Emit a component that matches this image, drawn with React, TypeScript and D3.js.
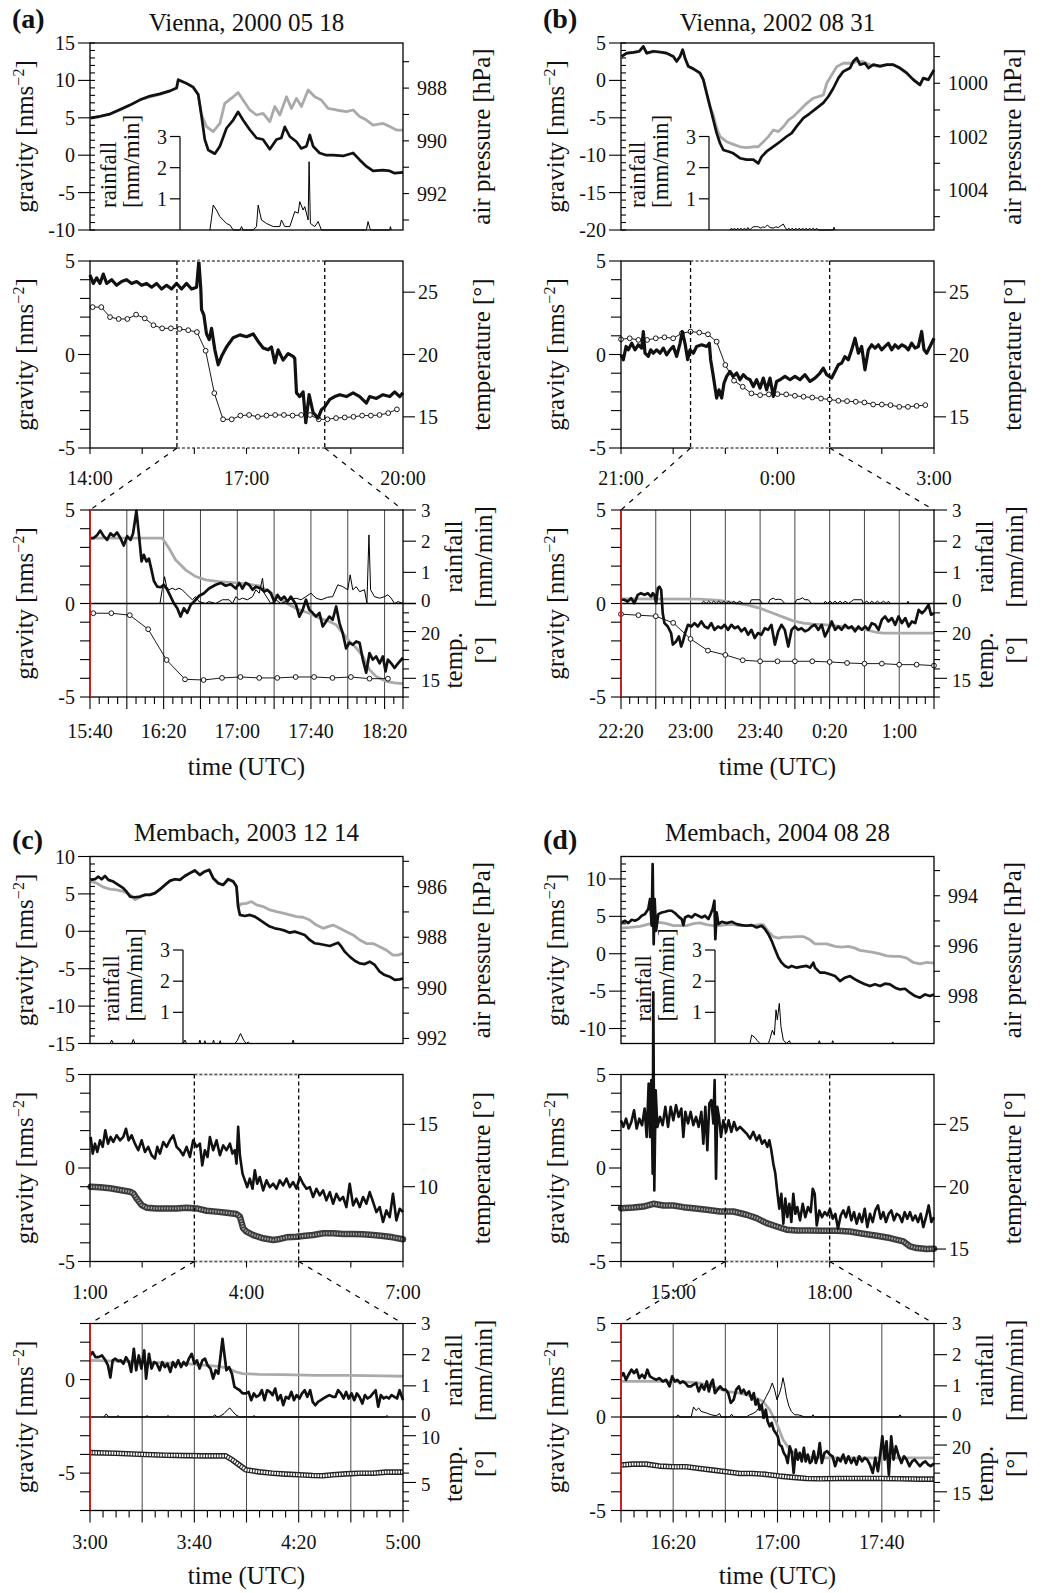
import * as d3 from 'd3'

type Pt = [number, number]

// all series: [minutes since start of panel window, value]

// ---------- (a) Vienna, 2000 05 18 ----------
const aTopGravity: Pt[] = [[1,5.0],[11.5,5.2],[23,5.5],[34.5,6.1],[46,6.7],[57.5,7.4],[69,7.9],[80.4,8.2],[92,8.6],[99.6,9.0],[101.5,10.1],[111,9.6],[118.7,9.1],[124.5,8.1],[128.3,5.2],[132,2.1],[136,0.7],[143.6,0.2],[149.4,1.2],[157,3.6],[164.7,4.7],[170.4,5.8],[176,4.7],[183.8,3.4],[191.5,2.3],[199,2.1],[206.8,0.8],[214.5,2.1],[220,2.3],[224,3.8],[229.8,2.5],[237.5,1.8],[243,0.9],[249,1.2],[252.8,2.7],[256.6,1.2],[264,0.3],[272,0.0],[279.6,0.0],[291,-0.1],[302.6,0.3],[310,-0.6],[318,-1.5],[325.6,-2.1],[337,-2.0],[344.7,-2.1],[350.4,-2.4],[360,-2.3]]
const aTopPressure: Pt[] = [[1,989.15],[11.5,989.08],[23,988.98],[34.5,988.83],[46,988.64],[57.5,988.45],[69,988.33],[80.4,988.24],[92,988.11],[99.6,988.01],[101.5,987.69],[111,987.82],[118.7,987.97],[124.5,988.26],[128.3,989.02],[134,989.46],[141.7,989.65],[149.4,989.34],[155,988.58],[164.7,988.33],[170.4,988.17],[176,988.45],[183.8,988.83],[191.5,989.02],[199,988.96],[206.8,989.27],[212.6,988.7],[218.3,989.02],[226,988.33],[231.7,988.77],[237.5,988.39],[243.2,988.7],[250.9,988.07],[258.5,988.33],[266,988.45],[273.8,988.77],[283.4,988.83],[295,988.89],[302.6,988.83],[310,989.08],[318,989.21],[325.6,989.4],[337,989.34],[344.7,989.46],[352.4,989.59],[360,989.59]]
const aTopRain: Pt[] = [[137.9,0],[139.8,0.38],[141.7,0.8],[145.5,0.64],[149.4,0.43],[153.2,0.32],[157,0.21],[160.9,0.16],[164.7,0],[172.4,0],[174.3,0.11],[176.2,0],[187.7,0],[191.5,0.11],[193.4,0.8],[197.2,0.32],[203,0.21],[210.7,0.11],[218.3,0.11],[220.2,0.32],[224,0.11],[229.8,0.11],[235.5,0.59],[239.4,0.54],[241.3,0.91],[245.1,0.64],[247,0.75],[250.9,0.32],[252,2.19],[253.5,0.21],[258.5,0.11],[262.4,0.27],[266.2,0],[317.9,0],[319.8,0.27],[322.5,0],[344.7,0],[345.5,0.11],[346.6,0]]
const aMidGravity: Pt[] = [[0,4.25],[3.8,3.8],[7.7,4.1],[11.5,3.8],[15.3,4.3],[19.2,3.8],[24.9,4.0],[30.6,3.7],[36.4,3.9],[42.1,4.0],[47.9,3.8],[53.6,3.9],[59.4,3.7],[65.1,3.8],[70.9,3.6],[76.6,3.8],[82.3,3.5],[88.1,3.7],[93.8,3.5],[99.6,3.8],[105.3,3.5],[111.1,3.8],[116.8,3.5],[122.6,3.6],[125.2,5.0],[127.5,3.45],[128.3,2.4],[131,2.1],[134,1.1],[137.1,0.8],[139.8,1.4],[143.6,0.25],[147.5,-0.55],[151.3,-0.1],[157,0.4],[164.7,0.9],[172.4,1.05],[180,0.95],[187.7,1.1],[193.4,0.7],[199.2,0.35],[204.9,0.25],[208.7,0.4],[212.6,-0.45],[216.4,0.25],[222.1,-0.3],[227.9,0.05],[233.6,-0.1],[235.5,-0.2],[237.5,-2.05],[241.3,-2.25],[245.1,-2.0],[248.2,-3.65],[252,-2.15],[256.6,-3.1],[262.4,-3.4],[266.2,-2.95],[270,-2.8],[275.8,-2.4],[281.5,-2.25],[287.3,-2.15],[294.9,-2.25],[302.6,-2.05],[310.2,-2.25],[317.9,-2.6],[321.7,-2.25],[329.4,-2.35],[337,-2.15],[344.7,-2.25],[350.4,-2.0],[356.2,-2.25],[360,-2.05]]
const aMidTemp: Pt[] = [[3,23.8],[13,23.8],[23,23.0],[33,22.85],[43,22.85],[53,23.2],[63,22.9],[73,22.35],[83,22.1],[93,22.1],[103,22.05],[113,21.95],[123,21.8],[133,20.3],[143,16.9],[153,14.8],[163,14.8],[173,15.1],[183,15.15],[193,15.0],[203,15.1],[213,15.15],[223,15.15],[233,15.1],[243,15.15],[253,15.15],[263,14.8],[273,14.8],[283,14.9],[293,14.95],[303,15.0],[313,15.1],[323,15.1],[333,15.15],[343,15.3],[353,15.6]]
const aBotGravity: Pt[] = [[0,3.5],[2,3.5],[3.8,3.65],[5.6,3.9],[7.4,3.6],[9.3,3.4],[11.1,3.75],[12.9,3.6],[14.7,3.8],[16.5,3.5],[18.3,3.1],[20.2,3.6],[22,3.4],[23.4,3.75],[25.2,4.95],[26.5,3.75],[28,2.25],[29.2,2.6],[30.7,2.25],[32,2.4],[33.4,1.8],[34.7,1.2],[36.5,0.9],[38.3,0.87],[40.1,1.0],[42,0.73],[43.8,0.37],[45.6,0.0],[47.4,-0.25],[49.2,-0.7],[51,-0.25],[52.8,-0.5],[54.7,-0.07],[56.5,0.1],[59.2,0.4],[61.9,0.55],[64.6,0.8],[68.3,1.0],[71,1.1],[73.7,0.95],[76.5,1.03],[79.2,0.8],[81,1.1],[82.8,0.8],[84.6,1.1],[86.4,1.0],[88.3,0.73],[90.1,0.9],[92.8,0.8],[94.6,0.64],[96.4,0.73],[98.2,0.55],[100.1,0.1],[101.9,0.46],[103.7,0.2],[105.5,0.37],[107.3,0.1],[109.1,0.37],[111.9,-0.07],[113.7,-0.7],[115.5,-0.34],[117.3,0.2],[119.1,-0.34],[120.9,-0.5],[122.8,-0.7],[124.6,-0.5],[126.4,-1.23],[128.2,-0.96],[130,-0.7],[131.8,-0.87],[133.7,-0.16],[135.5,-1.05],[137.3,-1.6],[139.1,-2.4],[140.9,-2.1],[142.7,-2.2],[144.6,-2.03],[146.4,-2.1],[148.2,-3.0],[150,-3.7],[151.8,-2.65],[153.6,-3.0],[155.4,-2.83],[157.3,-3.2],[159.1,-2.83],[160.5,-3.63],[161.8,-3.0],[163.6,-3.2],[165.4,-3.45],[167.3,-3.2],[170,-2.9]]
const aBotModel: Pt[] = [[0,3.5],[39.2,3.5],[42.9,2.95],[46.5,2.33],[51.9,1.8],[57.4,1.44],[62.8,1.26],[70.1,1.17],[77.4,1.12],[84.6,1.05],[91.9,0.94],[97.3,0.64],[102.8,0.28],[108.2,-0.07],[113.7,-0.34],[119.1,-0.52],[124.6,-0.78],[130,-0.96],[133.7,-1.14],[137.3,-1.58],[140.9,-2.03],[144.6,-2.38],[148.2,-2.83],[151.8,-3.54],[155.4,-3.9],[160.9,-4.16],[165.4,-4.25],[170,-4.29]]
const aBotRain: Pt[] = [[38,0],[39.2,0.44],[40.5,0.86],[41.6,0.54],[42.9,0.44],[44.7,0.49],[46.5,0.44],[48.3,0.49],[50.1,0.44],[51.9,0.33],[53.8,0.22],[55.6,0.12],[57.4,0.22],[59.2,0.06],[62.8,0],[64.6,0.06],[68.3,0],[71.9,0.12],[75.5,0.12],[77.4,0],[79.2,0.22],[81,0.12],[82.8,0.17],[85.5,0.12],[88.3,0.22],[90.1,0.44],[91.9,0.33],[93.7,0.81],[94.6,0.33],[96.4,0.17],[98.2,0],[101,0.12],[103.7,0],[108.2,0.12],[111.9,0.17],[114.6,0.12],[117.3,0.22],[120,0.33],[122.8,0.17],[125.5,0.12],[129.1,0.2],[131.8,0.22],[134.6,0.6],[137.3,0.54],[140,0.44],[141.3,0.92],[142.7,0.44],[144.6,0.54],[146.4,0.38],[149.1,0.44],[150.4,0],[151.5,2.2],[152.4,0.44],[154.5,0.22],[157.3,0.17],[160,0.22],[161.8,0.28],[163.6,0.17],[165.4,0],[167.3,0.06],[170,0]]
const aBotTemp: Pt[] = [[1.8,21.96],[11.6,21.96],[21.6,21.75],[31.6,20.25],[41.6,16.96],[51.6,14.89],[61.7,14.82],[71.7,15.04],[81.7,15.14],[91.9,15.04],[101.7,15.04],[111.7,15.14],[121.7,15.14],[131.7,15.04],[141.7,15.14],[151.8,14.96],[161.8,14.96]]

// ---------- (b) Vienna, 2002 08 31 ----------
const bTopGravity: Pt[] = [[0.8,3.2],[6.5,3.65],[14.2,3.75],[21.1,3.9],[25.7,4.55],[29.5,3.65],[37.2,3.9],[44.9,3.8],[52.5,3.65],[60.2,3.2],[64,2.55],[67.9,3.2],[70.9,4.1],[73.6,3.0],[77.4,1.9],[83.2,1.55],[90.8,1.0],[94.7,0.1],[98.5,-1.7],[102.4,-3.5],[106.2,-5.3],[110,-7.05],[113.9,-8.4],[117.7,-9.3],[123.5,-9.5],[129.2,-9.75],[136.9,-10.4],[144.5,-10.6],[152.2,-10.6],[157.9,-11.1],[161.8,-10.2],[167.5,-9.5],[175.2,-8.85],[182.9,-8.2],[190.5,-7.5],[196.3,-7.05],[202,-6.15],[209.7,-5.05],[217.4,-4.4],[225,-3.7],[232.7,-3.0],[238.5,-2.15],[244.2,-1.05],[250,0.3],[255.7,1.2],[263.4,1.65],[267.2,2.55],[271.1,3.0],[274.9,2.1],[280.6,2.3],[284.5,1.65],[290.2,2.1],[297.9,1.9],[305.6,2.1],[313.2,2.1],[320.9,1.65],[328.6,1.0],[336.2,0.1],[343.9,-0.6],[347.7,0.3],[353.5,0.1],[360,1.4]]
const bTopPressure: Pt[] = [[0.8,999.0],[6.5,998.88],[14.2,998.85],[21.1,998.81],[25.7,998.63],[29.5,998.88],[37.2,998.81],[44.9,998.84],[52.5,998.88],[60.2,999.0],[64,999.19],[67.9,999.0],[70.9,998.75],[73.6,999.06],[77.4,999.38],[83.2,999.46],[90.8,999.63],[94.7,999.88],[98.5,1000.38],[102.4,1000.88],[106.2,1001.19],[110,1001.69],[113.9,1002.0],[121.5,1002.19],[129.2,1002.29],[136.9,1002.38],[144.5,1002.41],[152.2,1002.38],[157.9,1002.38],[163.7,1002.19],[169.5,1002.0],[175.2,1001.75],[181,1001.81],[186.7,1001.63],[192.5,1001.38],[198.2,1001.25],[205.9,1001.0],[213.6,1000.75],[221.2,1000.56],[227,1000.5],[232.7,1000.44],[236.6,1000.0],[242.3,999.69],[248.1,999.38],[255.7,999.25],[263.4,999.25],[271.1,999.19],[278.7,999.19],[286.4,999.31],[297.9,999.38],[305.6,999.31],[313.2,999.31],[320.9,999.44],[328.6,999.63],[336.2,999.88],[343.9,1000.06],[347.7,999.81],[353.5,999.88],[360,999.5]]
const bTopRain: Pt[] = [[125.4,0],[127,0.06],[128.6,0],[130.5,0.06],[132.4,0],[134.3,0.06],[136.2,0],[138,0.06],[140,0],[142,0.06],[144,0],[146,0.08],[148,0],[150,0.06],[152,0.1],[156,0.11],[158,0.1],[161,0.06],[163,0.1],[165.6,0.08],[168.3,0.16],[171.4,0.08],[175,0.06],[178,0.1],[181,0.08],[183,0.12],[186.7,0.19],[188.6,0.09],[191,0],[193,0.06],[195,0],[197,0.06],[199,0],[201,0.06],[203,0],[205,0.06],[207,0],[209,0.06],[211,0],[213,0.06],[215,0],[217,0.06],[219,0],[221,0.06],[223,0],[225,0.06],[227,0],[244.2,0],[245,0.09],[246.1,0]]
const bMidGravity: Pt[] = [[0,-0.02],[2.7,-0.28],[5.8,0.43],[8.4,0.25],[12.3,0.6],[16.1,0.25],[19.9,0.52],[23.8,0.34],[25.7,1.23],[27.6,0.07],[31.4,-0.1],[34.1,0.25],[37.2,0.07],[41,0.25],[44.9,0.07],[48.7,0.34],[52.5,-0.02],[56.4,0.25],[60.2,0.43],[64,-0.1],[67.9,0.6],[70.5,1.23],[73.6,0.6],[76.7,-0.28],[79.4,0.25],[83.2,0.07],[87,0.43],[92.8,0.52],[98.5,0.43],[101.6,0.6],[103.1,-0.28],[106.2,-1.17],[110,-2.33],[112.7,-1.89],[115.8,-2.33],[118.5,-1.53],[121.5,-1.17],[125.4,-0.91],[129.2,-1.17],[133,-0.99],[136.9,-1.35],[140.7,-1.08],[144.5,-1.26],[148.4,-1.35],[152.2,-1.71],[156,-1.35],[159.9,-1.8],[163.7,-1.26],[167.5,-1.89],[171.4,-1.26],[175.2,-2.24],[179,-1.44],[182.9,-1.35],[188.6,-1.17],[194.4,-1.35],[200.1,-1.17],[205.9,-1.35],[211.6,-1.08],[217.4,-1.44],[223.1,-1.26],[228.9,-0.99],[232.7,-0.73],[236.6,-1.08],[242.3,-1.26],[246.1,-0.91],[250,-0.55],[253.8,-0.46],[257.6,-0.11],[261.5,-0.28],[265.3,0.25],[269.2,0.87],[273,0.07],[276.8,0.43],[280.6,-0.82],[284.5,0.25],[288.3,0.52],[292.2,0.34],[296,0.52],[299.8,0.25],[303.7,0.43],[307.5,0.6],[311.3,0.25],[315.2,0.52],[319,0.34],[322.8,0.52],[326.7,0.43],[330.5,0.25],[334.3,0.6],[338.2,0.34],[342,0.43],[345.8,1.23],[348.5,0.25],[351.6,0.07],[355.4,0.43],[360,0.87]]
const bMidTemp: Pt[] = [[0,21.22],[10,21.3],[20,21.17],[30,21.17],[40,21.3],[50,21.38],[60,21.3],[70,21.7],[80,21.84],[90,21.76],[100,21.62],[110,21.03],[120,19.16],[130,17.9],[140,17.41],[150,16.88],[160,16.74],[170,16.8],[180,16.82],[190,16.8],[200,16.69],[210,16.61],[220,16.55],[230,16.47],[240,16.39],[250,16.29],[260,16.26],[270,16.21],[280,16.15],[290,15.99],[300,15.99],[310,15.94],[320,15.8],[330,15.8],[340,15.88],[350,15.94]]
const bBotGravity: Pt[] = [[0,0.2],[1.9,0.2],[3.8,0.1],[5.8,0.28],[7.7,0.02],[9.6,0.46],[11.5,0.55],[13.5,0.46],[15.4,0.55],[17.3,0.37],[18.3,0.55],[19.2,0.46],[20.2,0.02],[21.2,0.82],[22.1,0.9],[23.1,0.73],[24,-0.52],[25,-1.05],[26.9,-1.23],[28.8,-1.58],[29.8,-2.2],[31.7,-2.03],[33.3,-1.76],[34.6,-2.3],[35.6,-2.03],[36.9,-1.58],[38.5,-1.14],[40.4,-1.23],[42.3,-1.05],[44.2,-1.23],[46.2,-0.96],[48.1,-1.23],[50,-1.32],[51.9,-1.05],[53.8,-1.41],[55.8,-1.23],[57.7,-1.32],[59.6,-1.14],[61.5,-1.41],[63.5,-1.14],[65.4,-1.32],[67.3,-1.23],[69.2,-1.49],[71.2,-1.32],[73.1,-1.67],[75,-1.41],[76.9,-1.85],[78.8,-1.58],[80.8,-1.67],[82.7,-1.32],[84.6,-1.41],[86.5,-1.14],[88.5,-2.2],[90.4,-1.49],[92.3,-1.14],[94.2,-1.41],[96.2,-2.3],[98.1,-1.41],[100,-1.23],[101.9,-1.41],[103.8,-1.32],[105.8,-1.49],[107.7,-1.41],[109.6,-1.23],[111.5,-1.14],[113.5,-1.41],[115.4,-1.14],[117.3,-1.76],[119.2,-1.41],[121.2,-0.96],[123.1,-1.41],[125,-1.23],[126.9,-1.41],[128.8,-1.14],[130.8,-1.32],[132.7,-1.23],[134.6,-1.49],[136.5,-1.23],[138.5,-1.41],[140.4,-1.23],[142.3,-1.41],[144.2,-1.05],[146.2,-1.14],[148.1,-1.41],[150,-0.87],[151.9,-0.69],[153.8,-0.96],[155.8,-0.78],[157.7,-1.14],[159.6,-0.69],[161.5,-1.05],[163.5,-0.78],[165.4,-1.23],[167.3,-0.96],[169.2,-1.05],[171.2,-0.34],[173.1,-0.52],[175,-0.34],[176.9,-0.07],[178.3,-0.6],[180,-0.52]]
const bBotModel: Pt[] = [[0,0.25],[45.2,0.23],[56.7,0.16],[64.4,0.05],[72.1,-0.07],[79.8,-0.25],[87.5,-0.52],[93.3,-0.73],[99,-0.93],[104.8,-1.05],[110.6,-1.1],[118.3,-1.14],[126,-1.23],[133.7,-1.32],[141.3,-1.41],[147.1,-1.55],[151,-1.58],[158.7,-1.58],[168.3,-1.58],[180,-1.58]]
const bBotRain: Pt[] = [[46.2,0],[47.5,0.075],[49,0],[50.4,0.075],[51.9,0],[53.3,0.075],[54.8,0],[56.2,0.075],[57.7,0],[59,0.075],[60.6,0],[61.9,0.075],[63.5,0],[64.8,0.075],[66.3,0],[68.3,0.075],[70.2,0],[74,0],[75,0.12],[79.8,0.12],[81.3,0],[84.6,0],[85.6,0.12],[87.5,0.17],[89,0.12],[90.4,0.14],[92.3,0.12],[94.2,0],[100,0],[101,0.12],[102.9,0.14],[104.4,0.18],[105.8,0.12],[107.7,0.12],[109.6,0],[116.7,0],[117.5,0.075],[118.7,0],[120.2,0.075],[121.7,0],[123.1,0.075],[124.6,0],[126,0.075],[127.5,0],[128.8,0.075],[130.8,0],[132.7,0.075],[133.7,0.12],[138.5,0.12],[139.4,0],[141.3,0.075],[142.9,0],[144.2,0.075],[145.8,0],[147.5,0.075],[149,0],[151,0.075],[152.5,0],[153.8,0.075],[154.8,0],[164.4,0],[165,0.075],[165.6,0]]
const bBotTemp: Pt[] = [[0,21.86],[10,21.75],[20,21.64],[30,20.93],[40,19.21],[50,17.96],[60,17.5],[70,16.93],[80,16.82],[90,16.82],[100,16.82],[110,16.82],[120,16.75],[130,16.64],[140,16.57],[150,16.57],[160,16.46],[170,16.46],[180,16.36]]

// ---------- (c) Membach, 2003 12 14 ----------
const cTopGravity: Pt[] = [[0.8,6.875],[5.7,6.96],[9.6,7.3],[13.4,6.96],[17.2,7.4],[21.1,6.875],[26.8,6.65],[32.6,6.2],[38.3,5.76],[42.1,5.3],[46,4.64],[51.7,4.55],[57.5,4.64],[63.2,4.87],[68.9,4.87],[74.7,5.1],[80.4,5.6],[86.2,6.2],[91.9,6.74],[97.7,6.96],[103.4,6.875],[109.2,7.4],[114.9,7.77],[120.6,8.13],[126.4,7.54],[132.1,8.0],[137.1,8.2],[141.7,7.1],[147.5,6.43],[153.2,6.2],[158.9,6.96],[164.7,6.65],[168.5,5.98],[170.4,3.3],[172.4,2.19],[178.1,2.05],[183.8,2.19],[189.6,1.96],[195.3,1.52],[201.1,1.07],[206.8,0.63],[212.6,0.4],[218.3,0.27],[224.1,0.09],[229.8,-0.18],[235.5,-0.04],[241.3,-0.27],[247,-0.49],[252.8,-1.16],[258.5,-1.6],[264.3,-1.7],[270,-1.83],[275.8,-1.96],[281.5,-1.7],[285.3,-1.52],[289.2,-2.05],[293,-2.72],[298.7,-3.39],[304.5,-3.93],[310.2,-4.29],[316,-4.38],[321.7,-4.06],[327.5,-4.5],[333.2,-5.4],[339,-5.85],[344.7,-6.07],[350.4,-6.5],[356.2,-6.43],[360,-6.3]]
const cTopPressure: Pt[] = [[0.8,985.79],[7.7,985.86],[15.3,986.02],[23,986.1],[30.6,986.13],[38.3,986.19],[46,986.32],[51.7,986.52],[57.5,986.42],[63.2,986.32],[68.9,986.32],[74.7,986.26],[80.4,986.1],[86.2,985.93],[91.9,985.77],[97.7,985.7],[103.4,985.73],[109.2,985.57],[114.9,985.46],[120.6,985.36],[126.4,985.53],[132.1,985.4],[137.1,985.33],[141.7,985.66],[147.5,985.86],[153.2,985.93],[158.9,985.7],[164.7,985.79],[168.5,985.99],[170.4,986.79],[174.3,986.68],[180,986.66],[185.8,986.59],[191.5,986.72],[199.2,986.79],[206.8,986.92],[214.5,986.99],[222.1,987.05],[229.8,987.12],[237.5,987.19],[245.1,987.21],[252.8,987.32],[260.4,987.52],[268.1,987.65],[273.8,987.58],[279.6,987.52],[287.3,987.65],[294.9,987.78],[302.6,987.91],[310.2,988.11],[317.9,988.25],[325.6,988.25],[333.2,988.38],[340.9,988.51],[348.5,988.71],[354.3,988.71],[360,988.64]]
const cTopRain: Pt[] = [[23,0],[24.9,0.11],[26.8,0],[47.9,0],[49.8,0.13],[51.7,0],[107.2,0],[109.2,0.11],[111.1,0],[125.2,0],[126.4,0.11],[127.5,0],[131,0],[132.1,0.09],[133.3,0],[140.9,0],[142.1,0.11],[143.2,0],[148.6,0],[149.8,0.09],[150.9,0],[166.6,0],[169.3,0.09],[173.1,0.32],[177,0.09],[180,0],[181.9,0.05],[183.8,0],[232.5,0],[233.6,0.11],[234.8,0]]
const cMidGravity: Pt[] = [[0.8,1.66],[3.1,0.77],[5.7,1.3],[8.4,0.86],[11.5,1.48],[14.6,1.13],[17.6,2.02],[20.7,1.3],[23.7,1.66],[26.8,1.39],[30.6,1.75],[34.5,1.48],[38.3,1.66],[41.4,2.1],[44.4,1.48],[47.9,1.75],[51.7,1.3],[55.5,0.95],[59.4,1.48],[63.2,0.86],[67,1.13],[70.9,0.68],[74.7,0.5],[77.4,1.13],[80.4,0.77],[84.3,1.39],[88.1,1.13],[91.9,1.48],[95.8,1.75],[99.6,1.13],[103.4,0.95],[107.2,0.68],[111.1,1.13],[114.9,0.59],[118.7,1.48],[122.6,1.13],[126.4,1.3],[129.1,0.14],[132.1,0.95],[135.2,0.59],[137.9,1.66],[141.7,0.95],[145.5,1.48],[149.4,0.68],[153.2,1.21],[157,0.95],[160.9,1.3],[163.9,0.77],[166.6,0.95],[168.5,0.23],[170.4,2.2],[172.4,0.68],[175.4,-0.3],[178.1,-0.66],[180.8,-1.02],[183.8,-0.57],[186.9,-1.11],[189.6,-0.12],[192.3,-0.84],[195.3,-0.48],[199.2,-1.2],[203,-0.66],[206.8,-1.02],[210.7,-0.84],[214.5,-1.11],[218.3,-0.66],[222.1,-0.93],[226,-0.57],[229.8,-1.02],[233.6,-0.75],[237.5,-1.11],[241.3,-0.48],[245.1,-0.84],[249,-1.11],[252.8,-1.02],[256.6,-1.55],[260.4,-1.11],[264.3,-1.46],[268.1,-1.2],[271.9,-1.73],[275.8,-1.29],[279.6,-1.91],[283.4,-1.38],[287.3,-1.73],[291.1,-1.55],[294.9,-2.09],[298.7,-0.84],[302.6,-2.0],[306.4,-1.64],[310.2,-2.09],[314.1,-1.55],[317.9,-1.91],[321.7,-1.29],[325.6,-1.82],[329.4,-2.36],[333.2,-2.09],[337,-2.89],[340.9,-2.27],[344.7,-2.63],[348.5,-1.38],[352.4,-2.8],[356.2,-2.18],[360,-2.36]]
const cMidTemp: Pt[] = [[0.8,10.0],[11.5,9.95],[23,9.87],[34.5,9.73],[46,9.6],[49.8,9.47],[53.6,9.06],[59.4,8.53],[65.1,8.32],[76.6,8.26],[88.1,8.26],[99.6,8.26],[111.1,8.32],[122.6,8.26],[134,8.07],[145.5,8.0],[157,7.91],[168.5,7.81],[172.4,7.6],[176.2,6.66],[180,6.39],[187.7,6.12],[199.2,5.86],[210.7,5.72],[216.4,5.78],[226,5.94],[237.5,5.99],[245.1,6.04],[256.6,6.12],[268.1,6.26],[279.6,6.26],[291.1,6.2],[302.6,6.2],[314.1,6.18],[325.6,6.12],[337,6.04],[348.5,5.94],[360,5.78]]
const cBotGravity: Pt[] = [[0,1.29],[1,1.47],[2.1,1.2],[3.3,1.2],[4.6,1.29],[5.9,1.03],[6.9,0.76],[7.8,0.11],[8.7,1.03],[9.7,1.12],[10.8,0.99],[11.8,1.03],[12.8,0.85],[13.8,1.2],[14.9,0.94],[15.8,0.41],[16.8,1.65],[17.7,0.5],[18.7,1.29],[19.7,0.59],[20.8,1.56],[21.5,0.05],[22.6,1.38],[23.6,0.59],[24.6,0.94],[25.6,0.85],[26.7,0.5],[27.7,0.94],[28.7,0.67],[29.7,0.85],[30.8,0.41],[31.8,0.94],[32.8,0.67],[33.8,1.03],[34.9,0.67],[35.9,0.94],[36.9,0.76],[37.9,1.12],[39,1.38],[40,0.85],[41,1.03],[42,0.59],[43.1,1.03],[44.1,1.12],[45.1,0.76],[46.2,0.59],[47.2,0.05],[48.2,0.5],[49.2,0.32],[50,1.2],[50.8,2.18],[51.5,1.38],[52.3,0.5],[53.3,0.67],[54.4,0.32],[55.4,-0.39],[56.4,-0.48],[57.4,-0.57],[58.5,-0.74],[59.7,-0.74],[60.8,-0.66],[61.8,-1.1],[62.8,-0.74],[63.8,-0.92],[64.9,-0.83],[65.9,-0.57],[66.9,-1.1],[67.9,-0.57],[69,-0.66],[70,-0.83],[71,-0.48],[72,-1.1],[73.1,-0.83],[74.1,-1.37],[75.1,-0.92],[76.2,-1.01],[77.2,-0.66],[78.2,-1.1],[79.2,-0.83],[80.3,-1.01],[81.3,-0.74],[82.3,-0.57],[83.3,-0.92],[84.4,-0.57],[85.4,-1.19],[86.4,-1.37],[87.4,-1.19],[88.5,-1.1],[89.5,-1.01],[90.5,-0.92],[91.8,-0.83],[93.1,-0.92],[94.1,-0.92],[95.1,-0.57],[96.2,-0.74],[97.2,-1.01],[98.2,-0.66],[99.2,-1.01],[100.3,-0.74],[101.3,-1.1],[102.3,-0.74],[103.3,-0.92],[104.4,-1.28],[105.4,-0.83],[106.4,-1.01],[107.4,-0.92],[108.5,-0.74],[109.5,-0.57],[110.5,-1.45],[111.5,-0.83],[112.6,-1.01],[113.6,-0.92],[114.6,-1.01],[115.6,-0.83],[116.7,-0.92],[117.7,-1.01],[118.7,-0.57],[120,-1.1]]
const cBotModel: Pt[] = [[0,1.03],[9.7,0.99],[18.7,0.94],[29,0.89],[36.7,0.85],[44.4,0.76],[49.5,0.71],[53.3,0.59],[55.9,0.41],[58.5,0.32],[64.9,0.28],[73.8,0.27],[86.7,0.23],[99.5,0.23],[112.3,0.2],[120,0.18]]
const cBotRain: Pt[] = [[5.3,0],[6.2,0.1],[7.2,0],[10.4,0],[10.8,0.05],[11.2,0],[21.5,0],[21.9,0.05],[22.3,0],[29.5,0],[29.9,0.05],[30.3,0],[46.9,0],[47.8,0.07],[48.8,0],[50.1,0.04],[51.4,0.11],[52.7,0.23],[53.6,0.29],[54.7,0.18],[55.9,0.07],[57.4,0],[62.6,0],[62.9,0.05],[63.3,0],[113.3,0],[113.8,0.05],[114.4,0]]
const cBotTemp: Pt[] = [[0,8.19],[9.7,8.12],[18.7,8.01],[29,7.91],[36.7,7.87],[44.4,7.84],[52,7.84],[54.6,7.41],[57.2,6.88],[59.7,6.35],[64.9,6.13],[70,5.99],[75.1,5.89],[80.3,5.82],[85.4,5.74],[89.2,5.71],[93.1,5.82],[98.2,5.92],[103.3,5.99],[108.5,5.99],[113.6,6.1],[120,6.1]]

// ---------- (d) Membach, 2004 08 28 ----------
const dTopGravity: Pt[] = [[0.8,4.18],[4.6,4.41],[8.4,4.09],[12.3,4.54],[16.1,4.41],[19.9,4.63],[23.8,5.08],[27.6,5.3],[31.4,5.97],[33.4,7.32],[35.3,3.74],[36.4,12.0],[37.6,1.28],[38.7,7.32],[40.3,3.06],[42.9,5.3],[46.8,5.52],[50.6,5.61],[54.4,5.75],[58.3,5.75],[62.1,5.44],[65.9,4.99],[69.8,4.63],[71.7,3.83],[73.6,4.85],[77.4,5.08],[81.3,4.85],[85.1,5.3],[88.9,5.08],[92.8,4.85],[96.6,5.08],[100.5,4.63],[103.1,5.3],[105.4,5.97],[107.4,7.09],[108.5,1.95],[110,5.52],[112,3.96],[115.8,4.27],[121.5,4.09],[127.3,4.27],[133,3.96],[138.8,3.83],[144.5,3.74],[150.3,3.83],[156,3.51],[161.8,3.74],[165.6,3.29],[169.5,2.62],[173.3,1.72],[177.1,0.6],[181,-0.51],[184.8,-1.19],[188.6,-1.63],[192.5,-1.86],[196.3,-1.63],[202,-1.86],[207.8,-1.72],[213.6,-1.63],[217.4,-1.86],[221.2,-1.19],[223.1,-1.86],[228.9,-2.53],[234.6,-2.53],[240.4,-2.75],[246.1,-2.98],[251.9,-3.65],[257.6,-3.2],[263.4,-2.98],[269.2,-3.42],[274.9,-3.78],[280.6,-4.09],[286.4,-4.32],[292.2,-4.09],[297.9,-4.32],[303.7,-4.0],[309.4,-4.09],[315.2,-4.54],[320.9,-4.77],[326.7,-4.68],[332.4,-5.21],[338.2,-5.66],[343.9,-5.88],[349.7,-5.44],[355.4,-5.66],[360,-5.44]]
const dTopPressure: Pt[] = [[0.8,995.28],[10.4,995.26],[21.9,995.22],[29.5,995.15],[37.2,995.08],[44.9,995.06],[52.5,995.11],[60.2,995.19],[67.9,995.19],[75.5,995.19],[83.2,995.11],[90.9,995.08],[98.5,995.15],[106.2,995.19],[113.9,995.19],[121.5,995.15],[129.2,995.15],[136.9,995.19],[144.5,995.19],[152.2,995.19],[159.9,995.15],[163.7,995.15],[169.5,995.42],[175.2,995.62],[181,995.68],[186.7,995.64],[194.4,995.64],[202,995.62],[209.7,995.62],[217.4,995.75],[223.1,995.91],[228.9,995.91],[236.6,995.91],[246.1,996.01],[253.8,996.04],[261.5,996.01],[269.2,996.08],[274.9,996.17],[282.6,996.21],[290.2,996.25],[297.9,996.31],[305.6,996.39],[313.2,996.41],[320.9,996.41],[328.6,996.48],[336.2,996.65],[343.9,996.71],[351.6,996.65],[360,996.68]]
const dTopRain: Pt[] = [[148.4,0],[150.3,0.27],[154.1,0.19],[156.8,0.09],[159.9,0],[169.5,0],[171.4,0.16],[174.1,0.43],[176.4,0.27],[178.3,1.08],[179.8,0.76],[182.1,1.29],[184,0.54],[186.7,0.11],[190.5,0],[193.6,0.09],[195.2,0],[227,0],[228.1,0.09],[229.3,0],[242.3,0],[243.5,0.09],[244.6,0],[311.3,0],[312.5,0.05],[313.6,0]]
const dMidGravity: Pt[] = [[0,2.55],[2.7,2.2],[5.8,2.64],[8.8,2.11],[11.9,2.46],[15,3.09],[18,2.11],[21.1,2.64],[24.2,2.29],[27.2,3.18],[29.5,1.66],[31.8,4.52],[33.4,1.66],[34.9,4.7],[36.4,-0.3],[37.2,9.4],[38.3,-1.2],[39.9,4.16],[41.8,2.2],[44.9,2.73],[47.9,2.29],[51,3.27],[54.1,2.2],[57.1,3.27],[60.2,2.55],[63.3,3.36],[66.3,2.73],[69.4,3.18],[71.7,1.66],[74,3.0],[77.1,2.38],[80.1,3.0],[83.2,2.29],[86.3,2.73],[89.3,2.2],[92.4,3.0],[94.7,1.3],[97,3.27],[99.3,0.95],[101.6,3.45],[103.9,3.63],[106.2,2.38],[107.7,4.7],[109.3,-0.57],[110.8,3.27],[112.7,2.73],[115,1.66],[117.7,2.55],[120.8,1.93],[123.8,2.55],[126.9,1.93],[130,2.46],[133,2.02],[136.9,2.2],[140.7,2.02],[144.5,1.84],[148.4,1.57],[152.2,1.93],[156,1.48],[159.1,1.75],[162.2,1.3],[165.2,1.48],[168.3,1.13],[170.6,1.48],[172.9,0.95],[175.2,0.23],[177.5,-0.3],[179.8,-1.29],[182.1,-2.18],[184.4,-1.38],[186.7,-2.98],[189,-1.64],[191.3,-2.63],[193.6,-1.91],[195.9,-2.89],[198.2,-1.38],[200.5,-2.45],[202.8,-2.09],[205.9,-2.8],[209,-1.91],[212,-2.63],[215.1,-2.09],[218.2,-2.36],[220.5,-1.11],[222.8,-1.38],[225.1,-3.07],[228.1,-2.27],[231.2,-2.63],[234.3,-2.36],[237.3,-2.54],[240.4,-2.18],[243.5,-2.71],[246.5,-2.45],[249.6,-3.25],[252.7,-2.54],[255.7,-2.27],[258.8,-2.63],[261.9,-2.09],[264.9,-2.8],[268,-2.36],[271.1,-2.98],[274.1,-2.45],[277.2,-2.89],[280.3,-2.18],[283.3,-3.16],[286.4,-2.45],[289.5,-2.89],[292.5,-2.27],[295.6,-2.0],[298.7,-2.71],[301.7,-2.36],[304.8,-2.89],[307.9,-2.45],[310.9,-2.27],[314,-2.8],[317.1,-2.45],[320.1,-2.54],[323.2,-2.89],[326.3,-2.36],[329.3,-2.71],[332.4,-2.36],[335.5,-2.8],[338.5,-2.54],[341.6,-2.89],[344.7,-2.45],[347.7,-3.16],[350.8,-2.63],[353.9,-2.0],[356.9,-2.89],[360,-2.63]]
const dMidTemp: Pt[] = [[0,18.28],[14.2,18.33],[25.7,18.41],[37.2,18.63],[48.7,18.49],[60.2,18.49],[71.7,18.36],[83.2,18.28],[98.5,18.15],[113.9,18.01],[129.2,18.01],[144.5,17.75],[156,17.48],[167.5,17.08],[179,16.81],[190.5,16.55],[202,16.49],[217.4,16.49],[232.7,16.47],[248.1,16.47],[263.4,16.41],[278.7,16.23],[294.1,16.07],[309.4,15.88],[324.7,15.61],[332.4,15.21],[340.1,15.08],[351.6,15.0],[360,15.03]]
const dBotGravity: Pt[] = [[0,2.17],[0.9,2.35],[1.9,1.99],[2.9,2.26],[4,2.53],[5,2.35],[6,2.53],[7,2.08],[8.1,2.26],[9.1,2.08],[10.1,2.53],[11.1,2.17],[12.2,2.08],[13.5,1.99],[14.7,2.08],[16,1.9],[17.3,1.99],[18.6,1.64],[19.6,2.17],[20.6,1.9],[21.6,1.99],[22.7,1.81],[23.7,1.9],[24.7,1.81],[25.7,1.64],[26.8,1.64],[27.8,1.73],[28.8,1.81],[29.8,1.37],[30.9,1.73],[31.9,1.46],[32.9,1.9],[33.7,1.37],[34.5,1.81],[35.2,1.99],[36,1.28],[37,1.46],[38,1.64],[39.1,1.46],[40.1,1.46],[41.1,1.28],[42.1,0.75],[43.2,0.93],[44.2,1.46],[45.2,1.64],[46.1,1.28],[47,1.46],[48,1.19],[49.1,1.37],[50.1,0.93],[50.9,1.28],[51.6,0.66],[52.4,0.93],[53.2,0.39],[53.9,0.66],[54.7,-0.05],[55.5,0.39],[56.2,-0.23],[57,-0.5],[57.8,-0.32],[58.5,-0.68],[59.3,-0.85],[60.1,-1.03],[60.8,-1.48],[61.6,-1.57],[62.4,-1.92],[63.2,-2.1],[63.9,-2.46],[64.7,-1.57],[65.5,-1.92],[66.2,-2.99],[67,-1.74],[67.8,-2.28],[68.5,-1.92],[69.3,-2.37],[70.1,-1.65],[70.8,-2.37],[71.6,-2.01],[72.4,-2.46],[73.1,-2.37],[73.9,-1.83],[74.7,-2.46],[75.5,-2.1],[76.2,-1.39],[77,-2.46],[78,-1.92],[79,-1.83],[80.1,-2.01],[81.1,-2.1],[82.1,-2.63],[83.1,-2.19],[84.2,-2.37],[85.2,-2.01],[86.2,-2.46],[87.2,-2.1],[88.3,-2.46],[89.3,-2.19],[90.3,-2.54],[91.3,-2.1],[92.4,-2.37],[93.4,-2.19],[94.4,-2.28],[95.4,-2.54],[96.5,-2.99],[97.5,-2.19],[98.5,-2.9],[99.3,-2.1],[100.2,-1.03],[101.1,-2.28],[101.8,-1.3],[102.7,-3.08],[103.6,-1.03],[104.5,-2.28],[105.4,-1.57],[106.5,-2.1],[107.5,-2.46],[108.5,-2.1],[109.5,-2.28],[110.6,-2.63],[111.6,-2.37],[112.6,-2.28],[113.6,-2.46],[114.6,-2.63],[115.7,-2.46],[116.7,-2.37],[117.7,-2.54],[118.7,-2.63],[120,-2.49]]
const dBotModel: Pt[] = [[0,1.9],[16,1.9],[28.8,1.85],[35.2,1.64],[40.4,1.37],[45.5,1.28],[50.6,1.1],[54.4,0.84],[57,0.39],[59.6,-0.32],[62.1,-1.21],[64.7,-1.74],[67.3,-2.01],[71.1,-2.14],[76.2,-2.19],[89,-2.19],[101.8,-2.19],[120,-2.19]]
const dBotRain: Pt[] = [[21.1,0],[21.9,0.07],[22.7,0],[26.9,0],[27.8,0.32],[28.8,0.21],[29.8,0.29],[30.7,0.18],[32.7,0.13],[34.6,0.07],[36.5,0.04],[37.8,0.11],[38.4,0],[41.6,0],[42.4,0.09],[43.2,0],[48,0],[49.3,0.07],[50.6,0.11],[51.9,0.18],[53.2,0.34],[54.4,0.45],[55.7,0.66],[57,0.87],[58,1.09],[58.9,0.87],[59.8,0.55],[60.8,0.77],[61.5,0.98],[62.1,1.26],[62.8,0.98],[63.4,0.66],[64.4,0.34],[65.3,0.18],[66.6,0.07],[67.9,0.07],[69.2,0.04],[70.5,0],[73,0],[73.6,0.07],[74.3,0],[106.3,0],[107,0.07],[107.6,0]]
const dBotTemp: Pt[] = [[0,17.86],[4.5,17.96],[9.6,17.96],[14.7,17.75],[19.9,17.68],[25,17.68],[30.1,17.5],[35.2,17.32],[40.4,17.14],[45.5,16.96],[50.6,16.96],[55.7,16.86],[60.8,16.68],[66,16.54],[71.1,16.43],[76.2,16.39],[83.9,16.43],[91.6,16.43],[99.3,16.43],[107,16.39],[114.6,16.36],[120,16.36]]

// ---------- panel settings ----------
const events = [
  {
    tag: '(a)', title: 'Vienna, 2000 05 18', col: 0, row: 0,
    top: { g: [-10, 15], p: [986.29, 993.38], gLabels: [-10, -5, 0, 5, 10, 15], pTicks: [987, 988, 989, 990, 991, 992, 993], pLabels: [988, 990, 992], insetAt: 90, black: aTopGravity, gray: aTopPressure, rain: aTopRain },
    mid: { t: [12.5, 27.5], tLabels: [15, 20, 25], timeLabels: ['14:00', '17:00', '20:00'], timeAt: [0, 180, 360], zoom: [100, 270], black: aMidGravity, temp: aMidTemp, dense: false },
    bot: { span: 170, g: [-5, 5], gLabels: [-5, 0, 5], t: [13, 23], tLabels: [15, 20], timeLabels: ['15:40', '16:20', '17:00', '17:40', '18:20'], timeAt: [0, 40, 80, 120, 160], black: aBotGravity, gray: aBotModel, rain: aBotRain, temp: aBotTemp, dense: false },
  },
  {
    tag: '(b)', title: 'Vienna, 2002 08 31', col: 1, row: 0,
    top: { g: [-20, 5], p: [998.49, 1005.5], gLabels: [-20, -15, -10, -5, 0, 5], pTicks: [999, 1000, 1001, 1002, 1003, 1004, 1005], pLabels: [1000, 1002, 1004], insetAt: 88, black: bTopGravity, gray: bTopPressure, rain: bTopRain },
    mid: { t: [12.5, 27.5], tLabels: [15, 20, 25], timeLabels: ['21:00', '0:00', '3:00'], timeAt: [0, 180, 360], zoom: [80, 240], black: bMidGravity, temp: bMidTemp, dense: false },
    bot: { span: 180, g: [-5, 5], gLabels: [-5, 0, 5], t: [13, 23], tLabels: [15, 20], timeLabels: ['22:20', '23:00', '23:40', '0:20', '1:00'], timeAt: [0, 40, 80, 120, 160], black: bBotGravity, gray: bBotModel, rain: bBotRain, temp: bBotTemp, dense: false },
  },
  {
    tag: '(c)', title: 'Membach, 2003 12 14', col: 0, row: 1,
    top: { g: [-15, 10], p: [984.81, 992.2], gLabels: [-15, -10, -5, 0, 5, 10], pTicks: [985, 986, 987, 988, 989, 990, 991, 992], pLabels: [986, 988, 990, 992], insetAt: 93, black: cTopGravity, gray: cTopPressure, rain: cTopRain },
    mid: { t: [4, 19], tLabels: [10, 15], timeLabels: ['1:00', '4:00', '7:00'], timeAt: [0, 180, 360], zoom: [120, 240], black: cMidGravity, temp: cMidTemp, dense: true },
    bot: { span: 120, g: [-7, 3], gLabels: [-5, 0], t: [2, 12], tLabels: [5, 10], timeLabels: ['3:00', '3:40', '4:20', '5:00'], timeAt: [0, 40, 80, 120], black: cBotGravity, gray: cBotModel, rain: cBotRain, temp: cBotTemp, dense: true },
  },
  {
    tag: '(d)', title: 'Membach, 2004 08 28', col: 1, row: 1,
    top: { g: [-12, 13], p: [992.44, 999.87], gLabels: [-10, -5, 0, 5, 10], pTicks: [993, 994, 995, 996, 997, 998, 999], pLabels: [994, 996, 998], insetAt: 94, black: dTopGravity, gray: dTopPressure, rain: dTopRain },
    mid: { t: [14, 29], tLabels: [15, 20, 25], timeLabels: ['15:00', '18:00'], timeAt: [60, 240], zoom: [120, 240], black: dMidGravity, temp: dMidTemp, dense: true },
    bot: { span: 120, g: [-5, 5], gLabels: [-5, 0, 5], t: [13, 23], tLabels: [15, 20], timeLabels: ['16:20', '17:00', '17:40'], timeAt: [20, 60, 100], black: dBotGravity, gray: dBotModel, rain: dBotRain, temp: dBotTemp, dense: true },
  },
]

const W = 1042, H = 1593
const BW = 313, BH = 187
const COL_X = [90, 621]
const ROW_Y = [0, 813.5]
const TOP_Y = 43, MID_Y = 261, BOT_Y = 510
const FONT = "'Liberation Serif', 'Times New Roman', Times, serif"
const TICK = 20

const GravityTitle = ({ x, y }: { x: number, y: number }) => (
  <text transform={`translate(${x},${y}) rotate(-90)`} textAnchor="middle" fontSize={25}>
    gravity [nms<tspan dy={-9} fontSize={16}>−2</tspan><tspan dy={9}>]</tspan>
  </text>
)

const VText = ({ x, y, s, anchor = 'middle', size = 25 }: any) => (
  <text transform={`translate(${x},${y}) rotate(-90)`} textAnchor={anchor} fontSize={size}>{s}</text>
)

function TopPanel({ ev, x0, y0 }: any) {
  const c = ev.top
  const x1 = x0 + BW, y1 = y0 + BH
  const x = d3.scaleLinear().domain([0, 360]).range([x0, x1])
  const yg = d3.scaleLinear().domain(c.g).range([y1, y0])
  const yp = d3.scaleLinear().domain(c.p).range([y0, y1])
  const yr = d3.scaleLinear().domain([0, 3]).range([y1, y1 - BH / 2])
  const gLine = d3.line<Pt>().x(d => x(d[0])).y(d => yg(d[1]))
  const pLine = d3.line<Pt>().x(d => x(d[0])).y(d => yp(d[1]))
  const rLine = d3.line<Pt>().x(d => x(d[0])).y(d => yr(d[1]))
  const ax = x0 + c.insetAt
  const gTicks = d3.range(Math.ceil(c.g[0]), Math.floor(c.g[1]) + 1)
  return (
    <g>
      <path d={rLine(c.rain) || ''} fill="none" stroke="#000" strokeWidth={1} />
      <path d={pLine(c.gray) || ''} fill="none" stroke="#aaa" strokeWidth={2.8} strokeLinejoin="round" />
      <path d={gLine(c.black) || ''} fill="none" stroke="#111" strokeWidth={2.7} strokeLinejoin="round" />
      <line x1={ax} x2={ax} y1={y1} y2={yr(3)} stroke="#000" strokeWidth={1.2} />
      {[1, 2, 3].map(v => (
        <g key={v}>
          <line x1={ax - 10} x2={ax} y1={yr(v)} y2={yr(v)} stroke="#000" strokeWidth={1.2} />
          <text x={ax - 13} y={yr(v)} dy="0.35em" textAnchor="end" fontSize={TICK}>{v}</text>
        </g>
      ))}
      <VText x={ax - 64} y={y1 - 22} s="rainfall" anchor="start" size={23} />
      <VText x={ax - 41} y={y1 - 22} s="[mm/min]" anchor="start" size={23} />
      <rect x={x0} y={y0} width={BW} height={BH} fill="none" stroke="#000" strokeWidth={1.3} />
      {gTicks.map(v => (
        <line key={v} x1={v % 5 === 0 ? x0 - 12 : x0} x2={x0 + 5} y1={yg(v)} y2={yg(v)} stroke="#000" strokeWidth={1.1} />
      ))}
      {c.gLabels.map((v: number) => (
        <text key={v} x={x0 - 15} y={yg(v)} dy="0.35em" textAnchor="end" fontSize={TICK}>{v}</text>
      ))}
      {c.pTicks.map((v: number) => (
        <line key={v} x1={x1} x2={x1 + 6} y1={yp(v)} y2={yp(v)} stroke="#000" strokeWidth={1.1} />
      ))}
      {c.pLabels.map((v: number) => (
        <text key={v} x={x1 + 14} y={yp(v)} dy="0.35em" fontSize={TICK}>{v}</text>
      ))}
      <GravityTitle x={x0 - 57} y={y0 + BH / 2} />
      <VText x={x1 + 87} y={y0 + BH / 2} s="air pressure [hPa]" />
    </g>
  )
}

function MidPanel({ ev, x0, y0, by0 }: any) {
  const c = ev.mid
  const x1 = x0 + BW, y1 = y0 + BH
  const x = d3.scaleLinear().domain([0, 360]).range([x0, x1])
  const yg = d3.scaleLinear().domain([-5, 5]).range([y1, y0])
  const yt = d3.scaleLinear().domain(c.t).range([y1, y0])
  const gLine = d3.line<Pt>().x(d => x(d[0])).y(d => yg(d[1]))
  const tLine = d3.line<Pt>().x(d => x(d[0])).y(d => yt(d[1]))
  const xa = x(c.zoom[0]), xb = x(c.zoom[1])
  return (
    <g>
      {c.dense ? (
        <g>
          <path d={tLine(c.temp) || ''} fill="none" stroke="#3c3c3c" strokeWidth={6.5} strokeLinejoin="round" strokeLinecap="round" />
          <path d={tLine(c.temp) || ''} fill="none" stroke="#aaa" strokeWidth={2.4} strokeDasharray="1.3 1.4" />
        </g>
      ) : (
        <g>
          <path d={tLine(c.temp) || ''} fill="none" stroke="#000" strokeWidth={0.9} />
          {c.temp.map((d: Pt, i: number) => (
            <circle key={i} cx={x(d[0])} cy={yt(d[1])} r={2.4} fill="#fff" stroke="#000" strokeWidth={0.9} />
          ))}
        </g>
      )}
      <path d={gLine(c.black) || ''} fill="none" stroke="#111" strokeWidth={c.dense ? 2.6 : 3.2} strokeLinejoin="round" />
      <rect x={x0} y={y0} width={BW} height={BH} fill="none" stroke="#000" strokeWidth={1.3} />
      {[y0, y1].map(yy => (
        <g key={yy}>
          <line x1={xa} x2={xb} y1={yy} y2={yy} stroke="#fff" strokeWidth={2} />
          <line x1={xa} x2={xb} y1={yy} y2={yy} stroke="#555" strokeWidth={1.3} strokeDasharray="3 2" />
        </g>
      ))}
      {[xa, xb].map(xx => (
        <line key={xx} x1={xx} x2={xx} y1={y0} y2={y1} stroke="#000" strokeWidth={1.3} strokeDasharray="4 3" />
      ))}
      <line x1={xa} y1={y1} x2={x0} y2={by0} stroke="#000" strokeWidth={1.2} strokeDasharray="5 6" />
      <line x1={xb} y1={y1} x2={x1} y2={by0} stroke="#000" strokeWidth={1.2} strokeDasharray="5 6" />
      {d3.range(-5, 6).map(v => (
        <line key={v} x1={x0 - (v % 5 === 0 ? 12 : 10)} x2={x0} y1={yg(v)} y2={yg(v)} stroke="#000" strokeWidth={1.1} />
      ))}
      {[-5, 0, 5].map(v => (
        <text key={v} x={x0 - 15} y={yg(v)} dy="0.35em" textAnchor="end" fontSize={TICK}>{v}</text>
      ))}
      {c.tLabels.map((v: number) => (
        <g key={v}>
          <line x1={x1} x2={x1 + 12} y1={yt(v)} y2={yt(v)} stroke="#000" strokeWidth={1.1} />
          <text x={x1 + 15} y={yt(v)} dy="0.35em" fontSize={TICK}>{v}</text>
        </g>
      ))}
      {d3.range(0, 361, 60).map(m => (
        <line key={m} x1={x(m)} x2={x(m)} y1={y1} y2={y1 + 6} stroke="#000" strokeWidth={1.1} />
      ))}
      {c.timeLabels.map((s: string, i: number) => (
        <text key={s} x={x(c.timeAt[i])} y={y1 + 37} textAnchor="middle" fontSize={TICK}>{s}</text>
      ))}
      <GravityTitle x={x0 - 57} y={y0 + BH / 2} />
      <VText x={x1 + 87} y={y0 + BH / 2} s="temperature [°]" />
    </g>
  )
}

function BotPanel({ ev, x0, y0 }: any) {
  const c = ev.bot
  const x1 = x0 + BW, y1 = y0 + BH, ym = y0 + BH / 2
  const x = d3.scaleLinear().domain([0, c.span]).range([x0, x1])
  const yg = d3.scaleLinear().domain(c.g).range([y1, y0])
  const yr = d3.scaleLinear().domain([0, 3]).range([ym, y0])
  const yt = d3.scaleLinear().domain(c.t).range([y1, ym])
  const gLine = d3.line<Pt>().x(d => x(d[0])).y(d => yg(d[1]))
  const rLine = d3.line<Pt>().x(d => x(d[0])).y(d => yr(d[1]))
  const tLine = d3.line<Pt>().x(d => x(d[0])).y(d => yt(d[1]))
  const grid = d3.range(20, c.span, 20)
  const fine = d3.range(0, c.span + 0.1, 5)
  const gTicks = d3.range(c.g[0], c.g[1] + 1)
  const tTicks = d3.range(c.t[0], c.t[1])
  const lab = ev.row === 0 ? 41 : 38
  const ttl = ev.row === 0 ? 78 : 73
  return (
    <g>
      {grid.map(m => (
        <line key={m} x1={x(m)} x2={x(m)} y1={y0} y2={y1} stroke="#333" strokeWidth={0.9} />
      ))}
      <path d={gLine(c.gray) || ''} fill="none" stroke="#aaa" strokeWidth={2.8} />
      <path d={rLine(c.rain) || ''} fill="none" stroke="#000" strokeWidth={1} />
      {c.dense ? (
        <g>
          <path d={tLine(c.temp) || ''} fill="none" stroke="#222" strokeWidth={5.6} strokeLinejoin="round" />
          <path d={tLine(c.temp) || ''} fill="none" stroke="#fff" strokeWidth={2.8} strokeDasharray="1.7 1" />
        </g>
      ) : (
        <g>
          <path d={tLine(c.temp) || ''} fill="none" stroke="#000" strokeWidth={0.9} />
          {c.temp.map((d: Pt, i: number) => (
            <circle key={i} cx={x(d[0])} cy={yt(d[1])} r={2.4} fill="#fff" stroke="#000" strokeWidth={0.9} />
          ))}
        </g>
      )}
      <path d={gLine(c.black) || ''} fill="none" stroke="#111" strokeWidth={2.7} strokeLinejoin="round" />
      <line x1={x0} x2={x1 + 13} y1={ym} y2={ym} stroke="#000" strokeWidth={1.3} />
      <rect x={x0} y={y0} width={BW} height={BH} fill="none" stroke="#000" strokeWidth={1.3} />
      <line x1={x0} x2={x0} y1={y0} y2={y1} stroke="#cc2020" strokeWidth={2} />
      {gTicks.map((v: number) => (
        <line key={v} x1={x0 - 10} x2={x0} y1={yg(v)} y2={yg(v)} stroke="#000" strokeWidth={1.1} />
      ))}
      {c.gLabels.map((v: number) => (
        <text key={v} x={x0 - 15} y={yg(v)} dy="0.35em" textAnchor="end" fontSize={TICK}>{v}</text>
      ))}
      {[1, 2, 3].map(v => (
        <line key={v} x1={x1} x2={x1 + 13} y1={yr(v)} y2={yr(v)} stroke="#000" strokeWidth={1.1} />
      ))}
      {[0, 1, 2, 3].map(v => (
        <text key={v} x={x1 + 18} y={yr(v) - (v === 0 ? 3 : 0)} dy="0.35em" fontSize={19}>{v}</text>
      ))}
      {tTicks.map((v: number) => (
        <line key={v} x1={x1} x2={x1 + (v % 5 === 0 ? 13 : 6)} y1={yt(v)} y2={yt(v)} stroke="#000" strokeWidth={1.1} />
      ))}
      {c.tLabels.map((v: number) => (
        <text key={v} x={x1 + 18} y={yt(v) + 2} dy="0.35em" fontSize={19}>{v}</text>
      ))}
      {fine.map((m: number) => (
        <line key={m} x1={x(m)} x2={x(m)} y1={y1} y2={y1 + (m % 20 === 0 || m === c.span ? 12 : 7)} stroke="#000" strokeWidth={1.1} />
      ))}
      {c.timeLabels.map((s: string, i: number) => (
        <text key={s} x={x(c.timeAt[i])} y={y1 + lab} textAnchor="middle" fontSize={TICK}>{s}</text>
      ))}
      <text x={x0 + BW / 2} y={y1 + ttl} textAnchor="middle" fontSize={25}>time (UTC)</text>
      <GravityTitle x={x0 - 57} y={y0 + BH / 2} />
      <VText x={x1 + 59} y={(y0 + ym) / 2} s="rainfall" />
      <VText x={x1 + 89} y={(y0 + ym) / 2} s="[mm/min]" />
      <VText x={x1 + 59} y={(ym + y1) / 2 + 10} s="temp." />
      <VText x={x1 + 89} y={(ym + y1) / 2} s="[°]" />
    </g>
  )
}

export default function App() {
  return (
    <svg width={W} height={H} viewBox={`0 0 ${W} ${H}`}
      style={{ position: 'absolute', left: 0, top: 0, background: '#fff' }}
      fontFamily={FONT} fill="#111">
      {events.map(ev => {
        const x0 = COL_X[ev.col]
        const r = ROW_Y[ev.row]
        const top = TOP_Y + r
        return (
          <g key={ev.tag}>
            <text x={x0 - 78} y={top - (ev.row === 0 ? 15 : 8)} fontSize={28} fontWeight="bold">{ev.tag}</text>
            <text x={x0 + BW / 2} y={top - (ev.row === 0 ? 12 : 16)} textAnchor="middle" fontSize={25}>{ev.title}</text>
            <TopPanel ev={ev} x0={x0} y0={top} />
            <MidPanel ev={ev} x0={x0} y0={MID_Y + r} by0={BOT_Y + r} />
            <BotPanel ev={ev} x0={x0} y0={BOT_Y + r} />
          </g>
        )
      })}
    </svg>
  )
}
